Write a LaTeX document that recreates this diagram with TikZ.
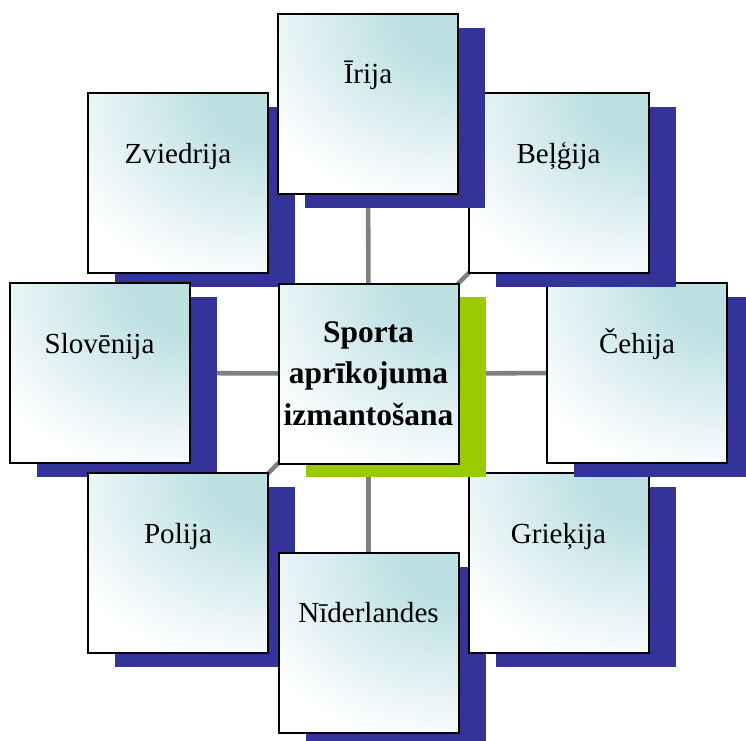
\documentclass[tikz,border=0pt]{standalone}
\usepackage{fontspec}
\setmainfont{Liberation Serif}
\usetikzlibrary{shadows,backgrounds}
\definecolor{boxteal}{RGB}{189,224,227}
\definecolor{shblue}{RGB}{51,51,153}
\definecolor{shgreen}{RGB}{153,204,0}
\definecolor{linegray}{RGB}{128,128,128}
\pgfdeclareradialshading{tealcorner}{\pgfpoint{0bp}{0bp}}{color(0bp)=(boxteal); color(6bp)=(boxteal); color(23bp)=(white); color(60bp)=(white)}
\begin{document}
\begin{tikzpicture}[x=0.75pt,y=-0.75pt,
  box/.style={draw=black, line width=1.5pt, fill=white,
    path picture={\shade[shading=tealcorner] ([xshift=-190pt,yshift=-160pt]path picture bounding box.north east) rectangle ([xshift=190pt,yshift=160pt]path picture bounding box.north east);},
    minimum width=135pt, minimum height=135pt, inner sep=0pt, outer sep=0pt},
  country/.style={box, general shadow={shadow xshift=20.25pt, shadow yshift=-10.5pt, fill=shblue}, text width=135pt, align=center, text height=52.5pt, text depth=82.5pt, font=\fontsize{21.8pt}{26pt}\selectfont},
  hub/.style={box, general shadow={shadow xshift=20.25pt, shadow yshift=-10pt, fill=shgreen}, text width=135pt, align=center, font=\fontsize{23.6pt}{31pt}\selectfont\bfseries},
  link/.style={draw=linegray, line width=3.4pt}]
\useasboundingbox (0,0) rectangle (746,740);
\clip (0,0) rectangle (746,740);
\node[country] (sv) at (178,183) {Zviedrija};
\node[country] (si) at (99.5,373) {Slovēnija};
\node[country] (pl) at (178,563) {Polija};
\node[country] (nl) at (368.5,642.5) {Nīderlandes};
\node[country] (gr) at (558.5,563) {Grieķija};
\node[country] (cz) at (637,373) {Čehija};
\node[country] (be) at (558.5,183) {Beļģija};
\node[country] (ie) at (368,103.5) {Īrija};
\node[hub] (c) at (368.5,373.5) {Sporta\\aprīkojuma\\izmantošana};
\begin{scope}[on background layer]
\foreach \n in {sv,si,pl,nl,gr,cz,be,ie} \draw[link] (c.center) -- (\n.center);
\end{scope}
\end{tikzpicture}
\end{document}
